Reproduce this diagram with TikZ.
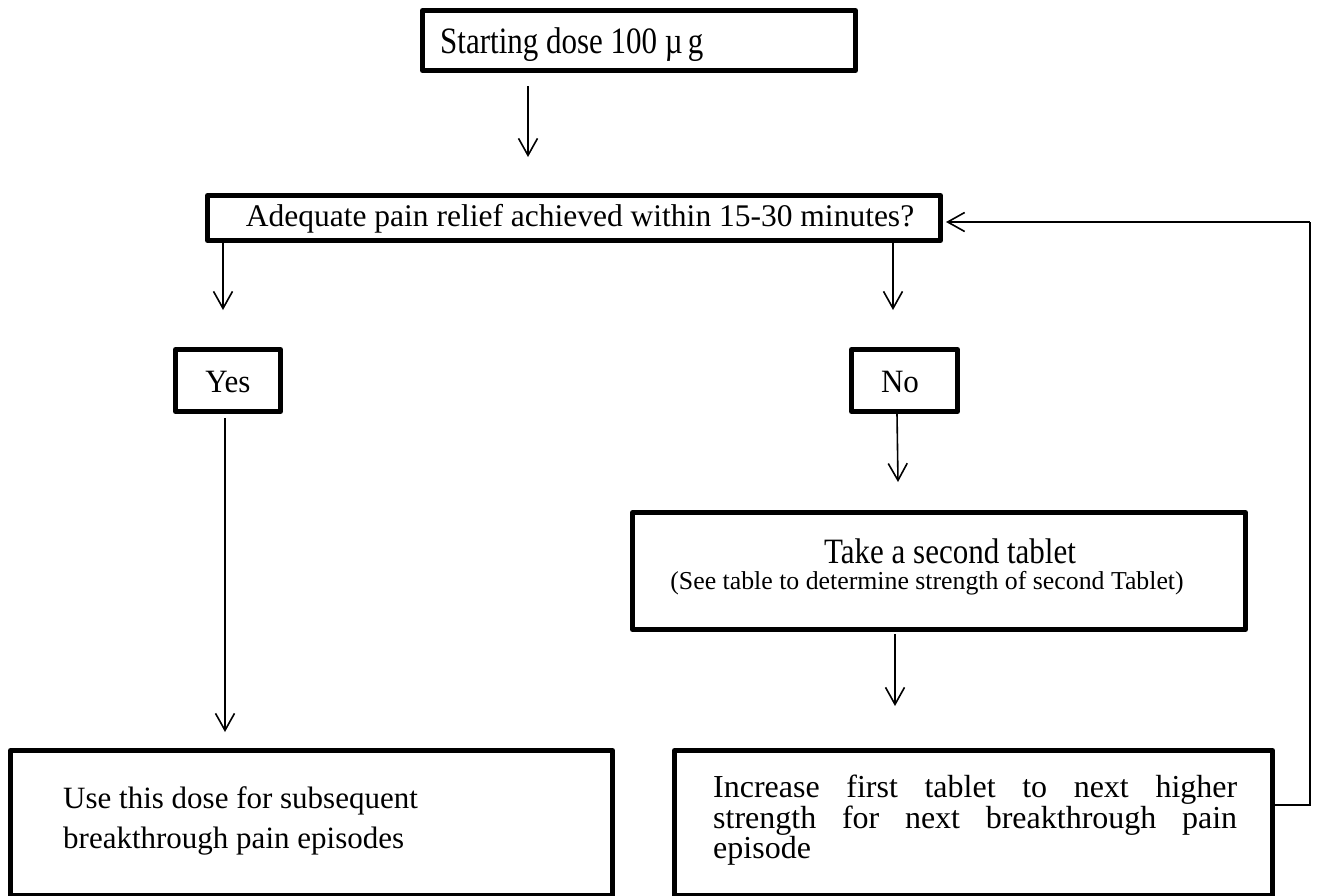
\documentclass[tikz,border=0pt]{standalone}
\usepackage{fontspec}
\setmainfont{Liberation Serif}
\usetikzlibrary{arrows.meta,calc}
\begin{document}
\begin{tikzpicture}[x=1pt,y=-1pt,
  box/.style={draw,line width=5pt,line join=round,inner sep=0pt,anchor=north west},
  txt/.style={inner sep=0pt,font=\fontsize{31}{38}\selectfont},
  arr/.style={line width=1.6pt,-{Straight Barb[length=17pt,width=19pt,line width=1.6pt]}},
  link/.style={line width=2pt}]
\useasboundingbox[fill=white] (0,0) rectangle (1321,895);
% boxes
\node[box,minimum width=433pt,minimum height=60pt] (start) at (420,8) {};
\node[box,minimum width=733pt,minimum height=45pt] (adeq) at (205,193) {};
\node[box,minimum width=105pt,minimum height=62pt] (yes) at (173,347) {};
\node[box,minimum width=106pt,minimum height=62pt] (no) at (849,347) {};
\node[box,minimum width=613pt,minimum height=117pt] (second) at (630,510) {};
\node[box,minimum width=602pt,minimum height=145pt] (use) at (8,748) {};
\node[box,minimum width=598pt,minimum height=145pt] (incr) at (672,748) {};
% texts
\node[txt,anchor=base west] (tstart) at (440,53) {\scalebox{1}[1.2]{Starting dose 100 µ\,g}};
\node[txt,anchor=base,font=\fontsize{31.5}{38}\selectfont] (tadeq) at (580,226) {Adequate pain relief achieved within 15-30 minutes?};
\node[txt,anchor=base] (tyes) at (228,392) {\scalebox{1}[1.05]{Yes}};
\node[txt,anchor=base] (tno) at (900,392) {\scalebox{1}[1.05]{No}};
\node[txt,anchor=base] (tsec1) at (950,563) {\scalebox{1}[1.15]{Take a second tablet}};
\node[inner sep=0pt,anchor=base,font=\fontsize{25.8}{30}\selectfont] (tsec2) at (927,589) {(See table to determine strength of second Tablet)};
\node[txt,anchor=north west,align=left,font=\fontsize{31}{40}\selectfont] (tuse) at (63,786) {Use this dose for subsequent\\breakthrough pain episodes};
\node[txt,anchor=north west,text width=524pt,font=\fontsize{32}{29}\selectfont] (tincr) at (713,775)
  {\hbox to 524pt{Increase\hfill first\hfill tablet\hfill to\hfill next\hfill higher}
   \hbox to 524pt{strength\hfill for\hfill next\hfill breakthrough\hfill pain}
   \hbox to 524pt{episode\hfill}};
% connector end points
\coordinate (a1s) at (528,86);  \coordinate (a1e) at (528,157);
\coordinate (a4s) at (225,418); \coordinate (a4e) at (225,732);
\coordinate (a5s) at (897,414); \coordinate (a5e) at (898,482);
\coordinate (a6s) at (895,634); \coordinate (a6e) at (895,706);
\coordinate (yesTip) at (223,310);
\coordinate (noTip) at (893,310);
\coordinate (fbx) at (1310,0);
% connectors
\draw[arr] (a1s) -- (a1e);
\draw[arr] (adeq.south -| yesTip) -- (yesTip);
\draw[arr] (adeq.south -| noTip) -- (noTip);
\draw[arr] (a4s) -- (a4e);
\draw[arr] (a5s) -- (a5e);
\draw[arr] (a6s) -- (a6e);
\draw[link] (incr.east |- 0,805) -- (fbx |- 0,805) -- (fbx |- 0,222);
\draw[arr,line width=2pt] (fbx |- 0,222) -- ($(adeq.east |- 0,222)+(3,0)$);
\end{tikzpicture}
\end{document}
